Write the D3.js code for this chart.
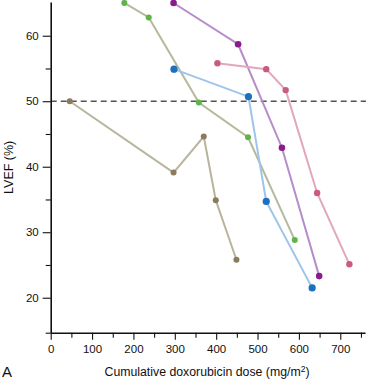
<!DOCTYPE html>
<html><head><meta charset="utf-8">
<script src="https://cdn.jsdelivr.net/npm/d3@7"></script>
<style>html,body{margin:0;padding:0;background:#fff;}svg{display:block;font-family:"Liberation Sans",Arial,sans-serif;}</style>
</head><body>
<svg id="c" width="366" height="381"></svg>
<script>
const xTicks = [0,100,200,300,400,500,600,700];
const yTicks = [20,30,40,50,60];
const seriesNames = ["brown","green","blue","purple","pink"];
const brownDose = [46,297,370,399,449];
const brownLVEF = [50.0,39.1,44.6,34.9,25.8];
const greenDose = [178,237,358,477,590];
const greenLVEF = [65.0,62.8,49.8,44.5,28.8];
const blueDose = [298,478,521,632];
const blueLVEF = [54.9,50.7,34.7,21.5];
const purpleDose = [297,453,559,649];
const purpleLVEF = [65.0,58.7,42.9,23.3];
const pinkDose = [403,521,568,644,722];
const pinkLVEF = [55.8,54.9,51.7,36.0,25.1];
const refLine = 50;

const series = [
  {dose:brownDose, lvef:brownLVEF, line:"#b8b59c", dot:"#8b7a5b", r:3},
  {dose:greenDose, lvef:greenLVEF, line:"#b8b99c", dot:"#5db54a", r:3},
  {dose:blueDose, lvef:blueLVEF, line:"#9dc5e9", dot:"#1b70bf", r:3.6},
  {dose:purpleDose, lvef:purpleLVEF, line:"#b68cc9", dot:"#8a1b8c", r:3.3},
  {dose:pinkDose, lvef:pinkLVEF, line:"#e3a6bc", dot:"#c95a82", r:3.2}
];

const svg = d3.select("#c");
const x = d3.scaleLinear().domain([0,760]).range([50.7,365.1]);
const y = d3.scaleLinear().domain([14.66,65.15]).range([332.7,2]);

// reference dashed line
svg.append("line").attr("x1",x(0)).attr("x2",366).attr("y1",y(refLine)).attr("y2",y(refLine))
  .attr("stroke","#555").attr("stroke-width",1.4).attr("stroke-dasharray","6,4");

// axes
const xAxis = svg.append("g").attr("transform",`translate(0,${y.range()[0]})`);
xAxis.call(d3.axisBottom(x).tickValues(d3.range(0,751,50)).tickSize(6).tickSizeOuter(0).tickFormat(d=>xTicks.includes(d)?d:""));
const yAxis = svg.append("g").attr("transform",`translate(${x.range()[0]},0)`);
yAxis.call(d3.axisLeft(y).tickValues([y.domain()[0]].concat(d3.range(20,61,5))).tickSize(6).tickSizeOuter(0).tickFormat(d=>yTicks.includes(d)?d:""));
[xAxis,yAxis].forEach(g=>{
  g.select(".domain").attr("stroke","#111").attr("stroke-width",1.6);
  g.selectAll(".tick line").attr("stroke","#111").attr("stroke-width",1.1);
  g.selectAll("text").attr("fill","#111").style("font-size","11.5px").style("font-family","Liberation Sans, Arial, sans-serif");
});
xAxis.selectAll(".tick").filter(d=>d%100!==0).select("line").attr("y2",5);
xAxis.selectAll(".tick").filter(d=>d%100===0).select("line").attr("y2",7);
yAxis.selectAll(".tick").filter(d=>!yTicks.includes(d)).select("line").attr("x2",-5);
yAxis.selectAll(".tick").filter(d=>yTicks.includes(d)).select("line").attr("x2",-8);
xAxis.selectAll("text").attr("y",12);
yAxis.selectAll("text").attr("x",-12);

// series
const line = d3.line().x(d=>x(d[0])).y(d=>y(d[1]));
series.forEach(s=>{
  const pts = s.dose.map((d,i)=>[d,s.lvef[i]]);
  svg.append("path").datum(pts).attr("d",line).attr("fill","none").attr("stroke",s.line).attr("stroke-width",2);
});
series.forEach(s=>{
  const pts = s.dose.map((d,i)=>[d,s.lvef[i]]);
  svg.append("g").selectAll("circle").data(pts).join("circle")
    .attr("cx",d=>x(d[0])).attr("cy",d=>y(d[1])).attr("r",s.r).attr("fill",s.dot);
});

// labels
svg.append("text").attr("transform",`translate(13,${(y.range()[0]+y.range()[1])/2}) rotate(-90)`)
  .attr("text-anchor","middle").attr("fill","#111").style("font-size","12.5px").text("LVEF (%)");
const xl = svg.append("text").attr("x",207).attr("y",376).attr("text-anchor","middle").attr("fill","#111").style("font-size","12.3px");
xl.append("tspan").text("Cumulative doxorubicin dose (mg/m");
xl.append("tspan").attr("dy",-4).style("font-size","8.5px").text("2");
xl.append("tspan").attr("dy",4).text(")");
svg.append("text").attr("x",2).attr("y",377).attr("fill","#111").style("font-size","15px").text("A");
</script>
</body></html>
